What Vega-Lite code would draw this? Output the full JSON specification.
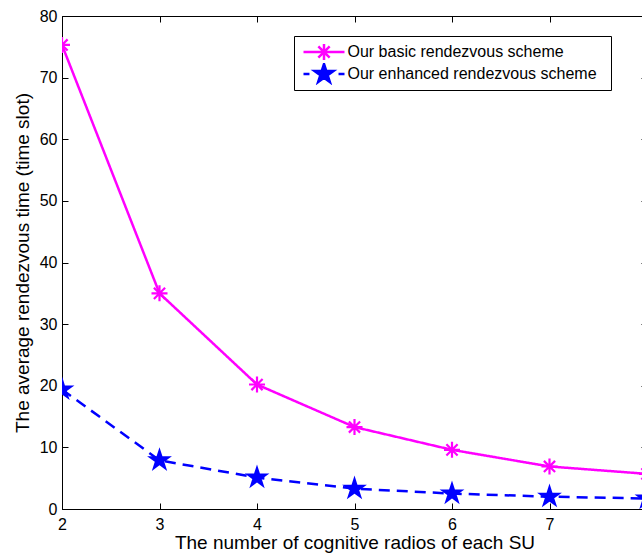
{
  "$schema": "https://vega.github.io/schema/vega-lite/v6.json",
  "width": 585,
  "height": 493,
  "autosize": {"type": "none"},
  "padding": {"left": 62, "top": 16, "right": 0, "bottom": 45},
  "background": "white",
  "config": {
    "font": "Liberation Sans",
    "view": {"stroke": "black", "strokeWidth": 1},
    "axis": {
      "domainColor": "black",
      "tickColor": "black",
      "labelColor": "black",
      "titleColor": "black",
      "labelFontSize": 16,
      "titleFontSize": 19,
      "titleFontWeight": "normal",
      "labelFont": "Liberation Sans",
      "titleFont": "Liberation Sans",
      "grid": false,
      "tickSize": -6,
      "labelFlush": false,
      "labelOverlap": false
    }
  },
  "data": {
    "values": [
      {"radios": 2, "time": 75.3, "series": "Our basic rendezvous scheme"},
      {"radios": 3, "time": 35.0, "series": "Our basic rendezvous scheme"},
      {"radios": 4, "time": 20.2, "series": "Our basic rendezvous scheme"},
      {"radios": 5, "time": 13.3, "series": "Our basic rendezvous scheme"},
      {"radios": 6, "time": 9.6, "series": "Our basic rendezvous scheme"},
      {"radios": 7, "time": 6.9, "series": "Our basic rendezvous scheme"},
      {"radios": 8, "time": 5.7, "series": "Our basic rendezvous scheme"},
      {"radios": 2, "time": 19.4, "series": "Our enhanced rendezvous scheme"},
      {"radios": 3, "time": 7.9, "series": "Our enhanced rendezvous scheme"},
      {"radios": 4, "time": 5.1, "series": "Our enhanced rendezvous scheme"},
      {"radios": 5, "time": 3.3, "series": "Our enhanced rendezvous scheme"},
      {"radios": 6, "time": 2.5, "series": "Our enhanced rendezvous scheme"},
      {"radios": 7, "time": 2.0, "series": "Our enhanced rendezvous scheme"},
      {"radios": 8, "time": 1.7, "series": "Our enhanced rendezvous scheme"}
    ]
  },
  "layer": [
    {
      "mark": {"type": "line", "strokeWidth": 2.5, "clip": true},
      "encoding": {
        "x": {
          "field": "radios", "type": "quantitative",
          "scale": {"domain": [2, 8], "nice": false, "zero": false},
          "axis": {"orient": "bottom", "values": [2, 3, 4, 5, 6, 7], "format": "d", "labelPadding": 13, "titlePadding": 1,
                   "title": "The number of cognitive radios of each SU"}
        },
        "y": {
          "field": "time", "type": "quantitative",
          "scale": {"domain": [0, 80], "nice": false},
          "axis": {"orient": "left", "values": [0, 10, 20, 30, 40, 50, 60, 70, 80], "labelPadding": 11, "titlePadding": 7,
                   "title": "The average rendezvous time (time slot)"}
        },
        "color": {
          "field": "series", "type": "nominal",
          "scale": {"domain": ["Our basic rendezvous scheme", "Our enhanced rendezvous scheme"], "range": ["#ff00ff", "#0000ff"]},
          "legend": null
        },
        "strokeDash": {
          "field": "series", "type": "nominal",
          "scale": {"domain": ["Our basic rendezvous scheme", "Our enhanced rendezvous scheme"], "range": [[1, 0], [11, 7]]},
          "legend": null
        }
      }
    },
    {
      "mark": {"type": "point", "filled": true, "strokeWidth": 2.2, "opacity": 1, "clip": true},
      "encoding": {
        "x": {
          "field": "radios", "type": "quantitative",
          "axis": {"orient": "top", "values": [2, 3, 4, 5, 6, 7, 8], "labels": false, "title": null, "domain": false}
        },
        "y": {
          "field": "time", "type": "quantitative",
          "axis": {"orient": "right", "values": [0, 10, 20, 30, 40, 50, 60, 70, 80], "labels": false, "title": null, "domain": false}
        },
        "fill": {
          "field": "series", "type": "nominal",
          "scale": {"domain": ["Our basic rendezvous scheme", "Our enhanced rendezvous scheme"], "range": ["#ff00ff", "#0000ff"]},
          "legend": null
        },
        "stroke": {
          "field": "series", "type": "nominal",
          "scale": {"domain": ["Our basic rendezvous scheme", "Our enhanced rendezvous scheme"], "range": ["#ff00ff", "#0000ff"]},
          "legend": null
        },
        "shape": {
          "field": "series", "type": "nominal",
          "scale": {
            "domain": ["Our basic rendezvous scheme", "Our enhanced rendezvous scheme"],
            "range": [
              "M0,-1V1M-1,0H1M-0.7,-0.7L0.7,0.7M-0.7,0.7L0.7,-0.7",
              "M0,-1L0.2245,-0.309L0.951,-0.309L0.363,0.118L0.588,0.809L0,0.382L-0.588,0.809L-0.363,0.118L-0.951,-0.309L-0.2245,-0.309Z"
            ]
          },
          "legend": null
        },
        "size": {
          "field": "series", "type": "nominal",
          "scale": {"domain": ["Our basic rendezvous scheme", "Our enhanced rendezvous scheme"], "range": [256, 361]},
          "legend": null
        }
      }
    },
    {
      "mark": {"type": "point", "filled": true, "opacity": 0},
      "encoding": {
        "x": {"field": "radios", "type": "quantitative", "axis": null},
        "y": {"field": "time", "type": "quantitative", "axis": null},
        "fill": {
          "field": "series", "type": "nominal",
          "scale": {"domain": ["Our basic rendezvous scheme", "Our enhanced rendezvous scheme"], "range": ["#ff00ff", "#0000ff"]}
        },
        "stroke": {
          "field": "series", "type": "nominal",
          "scale": {"domain": ["Our basic rendezvous scheme", "Our enhanced rendezvous scheme"], "range": ["#ff00ff", "#0000ff"]}
        },
        "shape": {
          "field": "series", "type": "nominal",
          "scale": {
            "domain": ["Our basic rendezvous scheme", "Our enhanced rendezvous scheme"],
            "range": [
              "M-1.864,0H1.864M0,-0.727V0.727M-0.727,0H0.727M-0.514,-0.514L0.514,0.514M-0.514,0.514L0.514,-0.514",
              "M-1.864,0H-1.32M1.32,0H1.864M0,-0.909L0.204,-0.281L0.864,-0.281L0.33,0.107L0.535,0.735L0,0.347L-0.535,0.735L-0.33,0.107L-0.864,-0.281L-0.204,-0.281Z"
            ]
          },
          "legend": {
            "orient": "none",
            "legendX": 232,
            "legendY": 20,
            "title": null,
            "symbolSize": 484,
            "symbolStrokeWidth": 2.5,
            "symbolOpacity": 1,
            "symbolOffset": 12.5,
            "clipHeight": 22,
            "labelFontSize": 16,
            "labelFont": "Liberation Sans",
            "labelColor": "black",
            "labelOffset": 11,
            "labelLimit": 400,
            "labelExpr": "datum.label + '  \u200b'",
            "strokeColor": "black",
            "fillColor": "white",
            "padding": 5,
            "rowPadding": 0,
            "encode": {
              "symbols": {
                "fill": {"value": {"expr": "datum.value === 'Our basic rendezvous scheme' ? '#ff00ff' : '#0000ff'"}},
                "stroke": {"value": {"expr": "datum.value === 'Our basic rendezvous scheme' ? '#ff00ff' : '#0000ff'"}},
                "opacity": {"value": 1},
                "fillOpacity": {"value": 1},
                "strokeOpacity": {"value": 1}
              }
            }
          }
        }
      }
    }
  ],
  "resolve": {
    "scale": {"shape": "independent", "size": "independent", "fill": "independent", "stroke": "independent"},
    "axis": {"x": "independent", "y": "independent"}
  }
}
